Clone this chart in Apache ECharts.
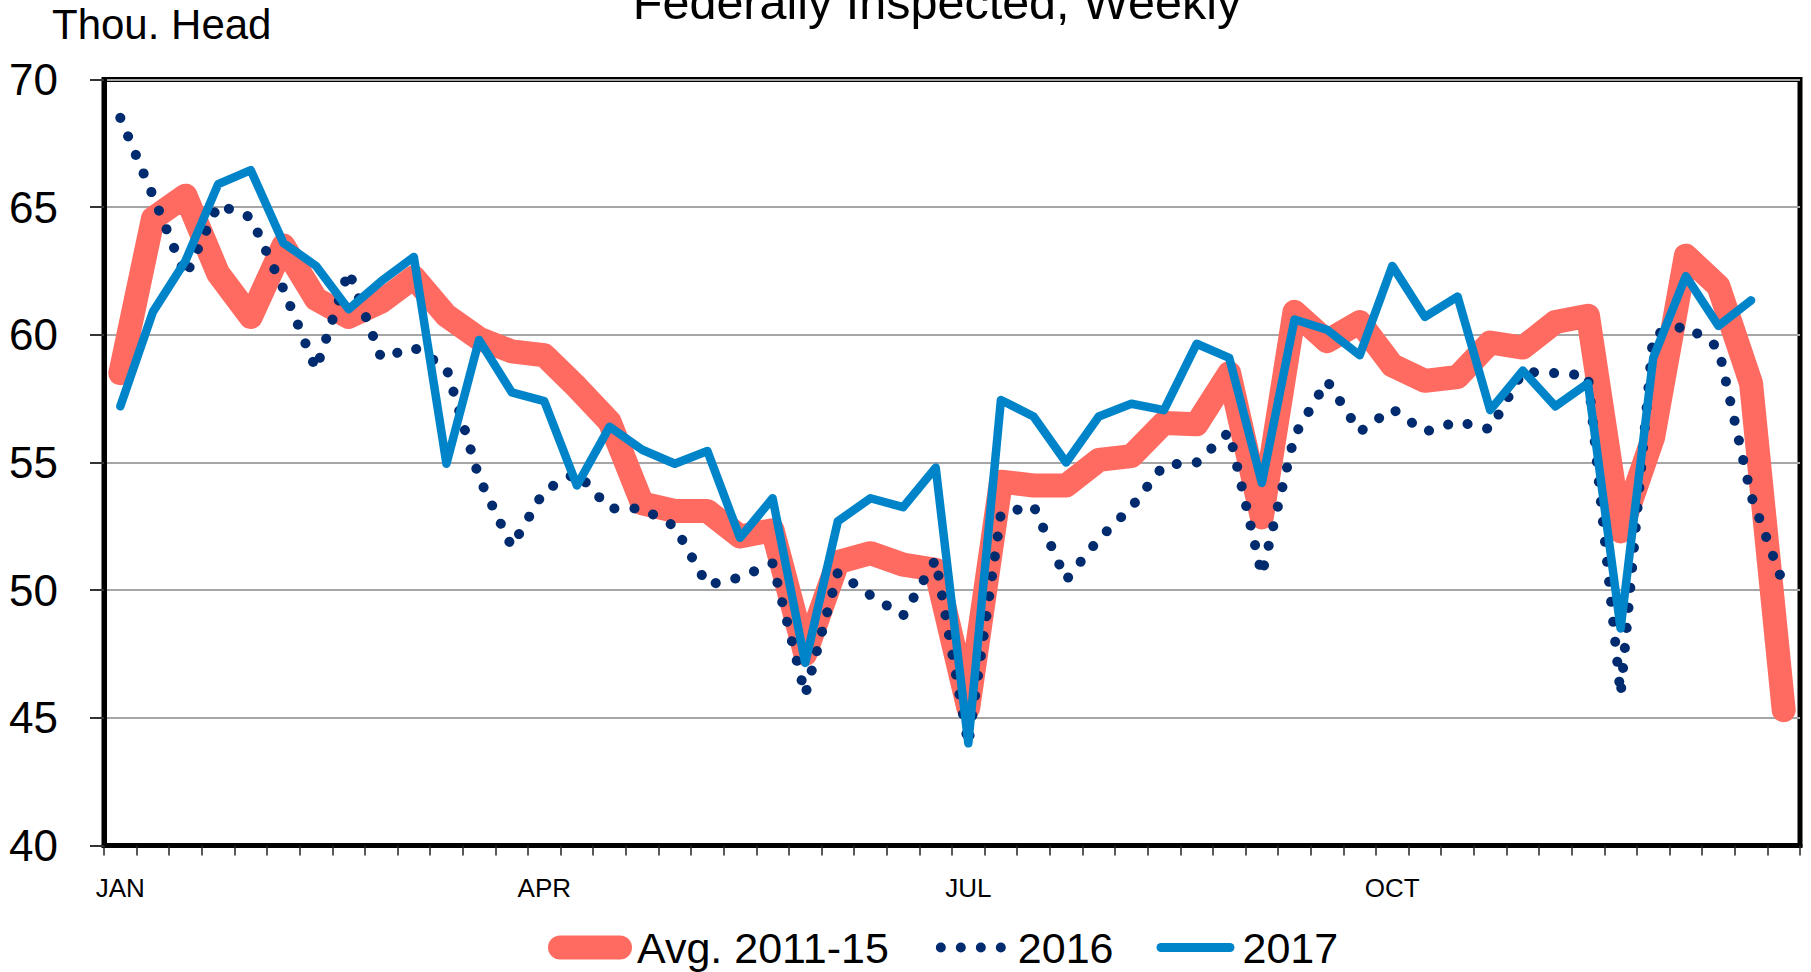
<!DOCTYPE html>
<html>
<head>
<meta charset="utf-8">
<script src="https://cdn.jsdelivr.net/npm/echarts@6/dist/echarts.min.js"></script>
<style>
html,body{margin:0;padding:0;background:#fff;}
#chart{width:1811px;height:972px;}
</style>
</head>
<body>
<div id="chart"></div>
<script>
// Weekly categories (52 weeks)
const weeks = ['W1','W2','W3','W4','W5','W6','W7','W8','W9','W10','W11','W12','W13','W14','W15','W16','W17','W18','W19','W20','W21','W22','W23','W24','W25','W26','W27','W28','W29','W30','W31','W32','W33','W34','W35','W36','W37','W38','W39','W40','W41','W42','W43','W44','W45','W46','W47','W48','W49','W50','W51','W52'];
// Month tick labels and the week index they sit on
const monthLabels = ['JAN','APR','JUL','OCT'];
const monthIndex = [0,13,26,39];

const avg2011_15 = [58.5,64.55,65.45,62.4,60.7,63.5,61.4,60.7,61.3,62.25,60.75,59.85,59.35,59.2,57.95,56.6,53.4,53.1,53.1,52.1,52.35,47.5,51.1,51.45,51.0,50.8,45.4,54.25,54.1,54.1,55.1,55.25,56.55,56.5,58.5,52.85,60.9,59.75,60.5,58.8,58.2,58.35,59.7,59.5,60.5,60.75,52.3,56.0,63.1,61.9,58.1,45.3];
const y2016 = [68.5,65.45,62.3,65.1,64.6,61.8,58.65,62.5,59.1,59.5,58.7,54.4,51.7,53.9,54.6,53.2,53.2,52.5,50.2,50.5,51.05,45.9,50.7,49.8,49.0,51.2,43.95,53.0,53.3,50.4,52.0,53.25,54.9,55.0,56.2,50.6,56.05,58.2,56.2,57.1,56.2,56.6,56.3,58.55,58.5,58.4,45.9,60.0,60.35,59.5,53.7,50.2];
const y2017 = [57.2,60.9,62.9,65.9,66.45,63.6,62.7,61.0,62.1,63.05,54.95,59.8,57.75,57.4,54.1,56.4,55.5,54.95,55.45,52.05,53.6,47.15,52.7,53.6,53.25,54.8,44.0,57.45,56.8,55.0,56.8,57.3,57.05,59.65,59.1,54.2,60.6,60.2,59.2,62.7,60.7,61.5,57.05,58.6,57.2,58.1,48.5,59.1,62.3,60.35,61.35];

const yMin = 40, yMax = 70, yStep = 5;
const FONT = "'Liberation Sans', Arial, sans-serif";

// legend swatches drawn in an 84x24 box (M0,0 M84,24 fix the box)
const iconAvg = 'path://M0,0M84,24M12,0L72,0A12,12,0,0,1,72,24L12,24A12,12,0,0,1,12,0Z';
const iconDots = 'path://M0,0M84,24M7,12A5,5,0,1,0,17,12A5,5,0,1,0,7,12ZM27,12A5,5,0,1,0,37,12A5,5,0,1,0,27,12ZM47,12A5,5,0,1,0,57,12A5,5,0,1,0,47,12ZM67,12A5,5,0,1,0,77,12A5,5,0,1,0,67,12Z';
const iconLine = 'path://M0,0M84,24M7.5,7.5L76.5,7.5A4.5,4.5,0,0,1,76.5,16.5L7.5,16.5A4.5,4.5,0,0,1,7.5,7.5Z';

const chart = echarts.init(document.getElementById('chart'), null, {renderer:'svg'});
chart.setOption({
  animation: false,
  backgroundColor: '#ffffff',
  title: [
    {text: 'Federally Inspected, Weekly', left: 932, top: -28, textAlign: 'center',
     textStyle: {fontFamily: FONT, fontSize: 48.5, fontWeight: 'normal', color: '#000'}},
    {text: 'Thou. Head', left: 47, top: -2,
     textStyle: {fontFamily: FONT, fontSize: 42, fontWeight: 'normal', color: '#000'}}
  ],
  grid: {left: 104, right: 11, top: 79.5, bottom: 126.5, show: true, borderColor: '#000', borderWidth: 5, backgroundColor: 'transparent'},
  legend: {
    left: 543, top: 921, itemWidth: 84, itemHeight: 24, itemGap: 40,
    symbolKeepAspect: false,
    textStyle: {fontFamily: FONT, fontSize: 43, color: '#000'},
    data: [
      {name: 'Avg. 2011-15', icon: iconAvg},
      {name: '2016', icon: iconDots},
      {name: '2017', icon: iconLine}
    ]
  },
  xAxis: {
    type: 'category', data: weeks, boundaryGap: true,
    axisLine: {show: true, lineStyle: {color: '#000', width: 5}},
    axisTick: {show: true, interval: 0, length: 10, lineStyle: {color: '#222', width: 1.5}},
    axisLabel: {interval: 12, margin: 29, fontFamily: FONT, fontSize: 26, color: '#000',
      formatter: function(v, i){ const k = monthIndex.indexOf(i); return k >= 0 ? monthLabels[k] : ''; }},
    splitLine: {show: false}
  },
  yAxis: {
    type: 'value', min: yMin, max: yMax, interval: yStep,
    axisLine: {show: true, lineStyle: {color: '#000', width: 5}},
    axisTick: {show: true, length: 14, lineStyle: {color: '#333', width: 2}},
    axisLabel: {margin: 46, padding: [9, 0, 0, 0], fontFamily: FONT, fontSize: 44, color: '#000'},
    splitLine: {show: true, lineStyle: {color: '#a6a6a6', width: 2}}
  },
  series: [
    {name: 'Avg. 2011-15', type: 'line', data: avg2011_15, symbol: 'none', z: 2,
     lineStyle: {color: '#ff6b61', width: 24, cap: 'round', join: 'round'},
     itemStyle: {color: '#ff6b61'}},
    {name: '2016', type: 'line', data: y2016, symbol: 'none', z: 3,
     lineStyle: {color: '#002b6e', width: 10, type: [0.1, 20], cap: 'round', join: 'round'},
     itemStyle: {color: '#002b6e'}},
    {name: '2017', type: 'line', data: y2017, symbol: 'none', z: 4,
     lineStyle: {color: '#0084c9', width: 8.5, cap: 'round', join: 'round'},
     itemStyle: {color: '#0084c9'}}
  ]
});
</script>
</body>
</html>
